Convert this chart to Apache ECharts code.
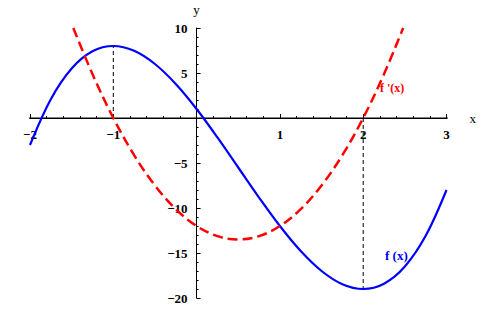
<!DOCTYPE html>
<html>
<head>
<meta charset="utf-8">
<script src="https://cdn.jsdelivr.net/npm/echarts@6/dist/echarts.min.js"></script>
<style>html,body{margin:0;padding:0;background:#fff}#c{width:500px;height:309px}</style>
</head>
<body>
<div id="c"></div>
<script>
// f(x) values
const fX = [-2, -1.75, -1.5, -1.25, -1, -0.75, -0.5, -0.25, 0, 0.25, 0.5, 0.75, 1, 1.25, 1.5, 1.75, 2, 2.25, 2.5, 2.75, 3];
const fY = [-3, 2.09, 5.5, 7.41, 8, 7.47, 6, 3.78, 1, -2.16, -5.5, -8.84, -12, -14.78, -17, -18.47, -19, -18.41, -16.5, -13.09, -8];
// f'(x) values
const dX = [-1.48, -1.25, -1, -0.75, -0.5, -0.25, 0, 0.25, 0.5, 0.75, 1, 1.25, 1.5, 1.75, 2, 2.25, 2.48];
const dY = [10, 4.88, 0, -4.13, -7.5, -10.13, -12, -13.13, -13.5, -13.13, -12, -10.13, -7.5, -4.13, 0, 4.88, 10];
// vertical guides at the extrema
const guide1 = [[-1, 0], [-1, 8]];
const guide2 = [[2, 0], [2, -19]];
// axis extents and ticks
const xAxisExtent = [-2.12, 3.12];
const xTicks = [-2, -1, 0, 1, 2, 3];
const yTicks = [-20, -15, -10, -5, 0, 5, 10];
const seriesNames = ["f (x)", "f '(x)"];

const zip = (a, b) => a.map((v, i) => [v, b[i]]);
const fmt = v => v === 0 ? '' : String(v).replace('-', '\u2212');
const labelFont = { fontFamily: 'Liberation Serif', fontWeight: 'bold', fontSize: 13, color: '#000' };

const G = { left: 30, right: 53.5, top: 28, bottom: 11 };
const plotW = 500 - G.left - G.right, plotH = 309 - G.top - G.bottom;
const xMin = xTicks[0], xMax = xTicks[xTicks.length - 1];
const yMin = yTicks[0], yMax = yTicks[yTicks.length - 1];
// shift axes so they cross at the origin
const xOff = -(0 - yMin) / (yMax - yMin) * plotH;
const yOff = -(0 - xMin) / (xMax - xMin) * plotW;

const chart = echarts.init(document.getElementById('c'), null, { renderer: 'svg' });
chart.setOption({
  animation: false,
  backgroundColor: '#fff',
  grid: Object.assign({ containLabel: false }, G),
  xAxis: {
    type: 'value', min: xMin, max: xMax, interval: 1, position: 'bottom', offset: xOff,
    name: 'x', nameLocation: 'end', nameGap: 23,
    nameTextStyle: Object.assign({}, labelFont, { fontWeight: 'normal', verticalAlign: 'middle' }),
    axisLine: { onZero: false, lineStyle: { color: '#000', width: 1 } },
    axisTick: { inside: true, length: 4, lineStyle: { color: '#000' } },
    minorTick: { show: true, splitNumber: 5, length: 2, lineStyle: { color: '#000' } },
    axisLabel: Object.assign({ margin: 10, formatter: fmt }, labelFont),
    splitLine: { show: false }
  },
  yAxis: {
    type: 'value', min: yMin, max: yMax, interval: 5, position: 'left', offset: yOff,
    name: 'y', nameLocation: 'end', nameGap: 12,
    nameTextStyle: Object.assign({}, labelFont, { fontWeight: 'normal' }),
    axisLine: { onZero: false, lineStyle: { color: '#000', width: 1 } },
    axisTick: { inside: true, length: 4, lineStyle: { color: '#000' } },
    minorTick: { show: true, splitNumber: 5, length: 2, lineStyle: { color: '#000' } },
    axisLabel: Object.assign({ margin: 9, formatter: fmt }, labelFont),
    splitLine: { show: false }
  },
  series: [
    { type: 'line', data: xAxisExtent.map(v => [v, 0]), symbol: 'none', clip: false, silent: true,
      lineStyle: { color: '#000', width: 1 }, z: 1 },
    { type: 'line', data: guide1, symbol: 'none', lineStyle: { color: '#000', width: 1, type: [4, 3] }, z: 2 },
    { type: 'line', data: guide2, symbol: 'none', lineStyle: { color: '#000', width: 1, type: [4, 3] }, z: 2 },
    { name: seriesNames[0], type: 'line', data: zip(fX, fY), smooth: 0.35, symbol: 'none',
      lineStyle: { color: '#0000ff', width: 2.2 }, z: 3 },
    { name: seriesNames[1], type: 'line', data: zip(dX, dY), smooth: 0.35, symbol: 'none',
      lineStyle: { color: '#ff0000', width: 2.5, type: [10, 5] }, z: 4 }
  ],
  graphic: [
    { type: 'text', left: 380, top: 82, style: { text: seriesNames[1], fill: '#ff0000', font: 'bold 12px "Liberation Serif"' } },
    { type: 'text', left: 385, top: 249, style: { text: seriesNames[0], fill: '#0000ff', font: 'bold 13px "Liberation Serif"' } }
  ]
});
</script>
</body>
</html>
